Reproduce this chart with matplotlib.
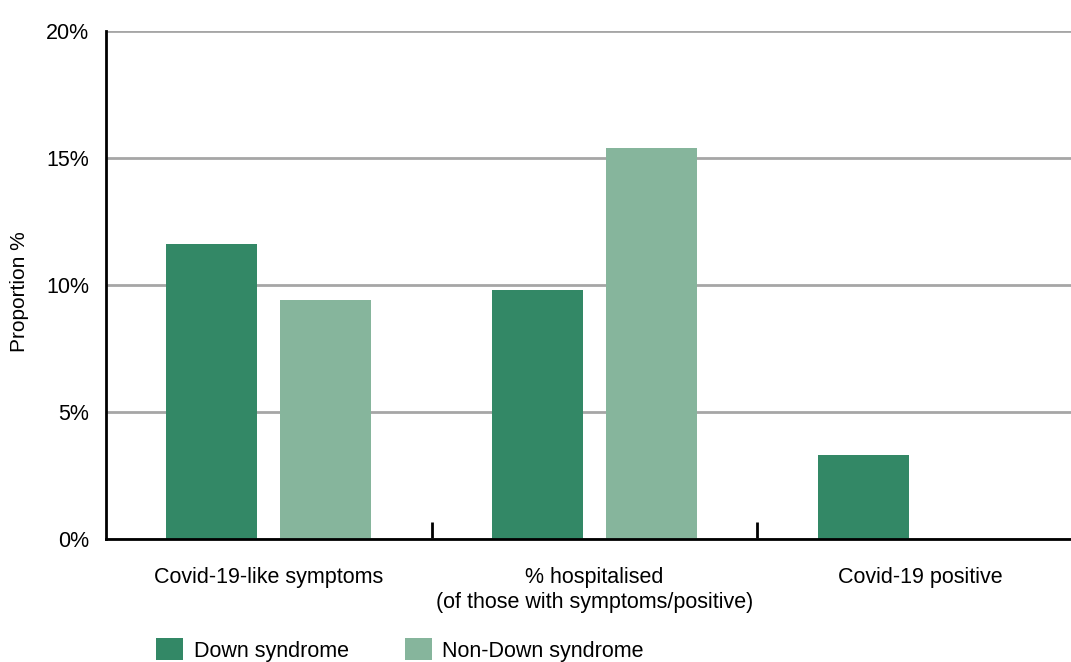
import matplotlib
matplotlib.use("Agg")
import matplotlib.pyplot as plt
import numpy as np

categories = ["Covid-19-like symptoms", "% hospitalised\n(of those with symptoms/positive)", "Covid-19 positive"]
down_syndrome = [11.6, 9.8, 3.3]
non_down_syndrome = [9.4, 15.4, 0.0]
series_names = ["Down syndrome", "Non-Down syndrome"]
yticks = [0, 5, 10, 15, 20]
ytick_labels = ["0%", "5%", "10%", "15%", "20%"]

c_ds = "#338866"
c_nds = "#86b59c"

plt.rcParams['font.family'] = ['Liberation Sans', 'DejaVu Sans']

fig = plt.figure(figsize=(10.71, 6.62), dpi=100)
W, H = 1071, 662
x0, x1 = 106, 1071
y0, y1 = 539, 31
ax = fig.add_axes([x0 / W, (H - y0) / H, (x1 - x0) / W, (y0 - y1) / H])

x = np.arange(len(categories))
bw = 0.28
off = 0.175
ax.bar(x - off, down_syndrome, bw, color=c_ds, label=series_names[0], zorder=3)
ax.bar(x + off, non_down_syndrome, bw, color=c_nds, label=series_names[1], zorder=3)

ax.set_xlim(-0.5, 2.5 - 12 / 325.5)
ax.set_ylim(0, 20)
ax.set_yticks(yticks)
ax.set_yticklabels(ytick_labels, fontsize=15.5)
ax.tick_params(axis='y', length=0, pad=12)
ax.yaxis.grid(True, color="#a6a6a6", linewidth=2, zorder=0)
ax.set_axisbelow(True)

# category labels at centers, boundary ticks at category edges
ax.set_xticks([0.5, 1.5])
ax.set_xticklabels([])
ax.tick_params(axis='x', direction='in', length=12, width=2, color='black')
for i, lab in enumerate(categories):
    ax.text(i, -1.12, lab, ha='center', va='top', fontsize=15.5, linespacing=1.2,
            transform=ax.transData)

for s in ['top', 'right']:
    ax.spines[s].set_visible(False)
ax.spines['left'].set_linewidth(2)
ax.spines['bottom'].set_linewidth(2)
ax.spines['left'].set_zorder(4)
ax.spines['bottom'].set_zorder(4)

fig.text(20 / W, 1 - 292 / H, "Proportion %", rotation=90, ha='center', va='center', fontsize=15)

leg = fig.legend(loc='center left', bbox_to_anchor=(156 / W, 1 - 650 / H), ncol=2, frameon=False,
                 fontsize=15.5, handlelength=1.25, handleheight=1.16, handletextpad=0.5,
                 columnspacing=2.6, borderpad=0, borderaxespad=0)

fig.savefig("out.png", dpi=100)
